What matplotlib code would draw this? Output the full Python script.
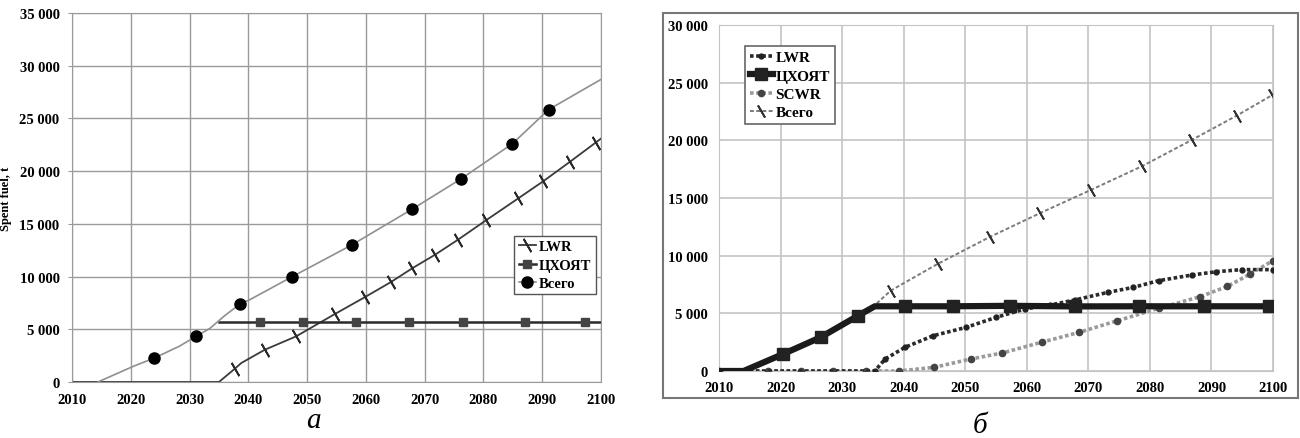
import matplotlib.pyplot as plt
from matplotlib.patches import Rectangle

plt.rcParams['font.family'] = ['Liberation Serif', 'DejaVu Serif']

# ---- panel a ----
a_lwr_years = [2010, 2035, 2037.7, 2038.8, 2042.8, 2048.1, 2054.7, 2059.8, 2064.2, 2067.9,
               2071.7, 2075.6, 2080.5, 2085.9, 2090.2, 2094.7, 2099.1, 2100]
a_lwr_vals = [0, 0, 1260, 1800, 3060, 4320, 6440, 8040, 9460, 10790,
              12050, 13470, 15360, 17410, 19050, 20880, 22710, 23090]
a_lwr_marks = [2, 4, 5, 6, 7, 8, 9, 10, 11, 12, 13, 14, 15, 16]

a_store_years = [2035, 2041.9, 2049.3, 2058.3, 2067.3, 2076.5, 2087.0, 2097.3, 2100]
a_store_vals = [5700, 5700, 5700, 5700, 5700, 5700, 5700, 5700, 5700]
a_store_marks = [1, 2, 3, 4, 5, 6, 7]

a_total_years = [2014.4, 2020.4, 2024.0, 2028.2, 2031.1, 2033.5, 2036.0, 2038.6, 2040.2, 2047.5,
                 2057.6, 2067.8, 2076.2, 2084.9, 2091.1, 2100]
a_total_vals = [0, 1480, 2270, 3375, 4320, 5100, 6300, 7410, 7790, 10000,
                13000, 16370, 19270, 22590, 25840, 28700]
a_total_marks = [2, 4, 7, 9, 10, 11, 12, 13, 14]

# ---- panel b ----
b_lwr_years = [2010, 2035.3, 2037.0, 2040.2, 2044.8, 2050.2, 2055.0, 2059.7, 2063.8, 2067.8,
               2073.2, 2077.3, 2081.4, 2086.8, 2090.8, 2094.9, 2100]
b_lwr_vals = [0, 0, 1040, 2050, 3060, 3790, 4650, 5380, 5720, 6160,
              6820, 7250, 7830, 8320, 8610, 8790, 8790]

b_store_years = [2010, 2014.0, 2020.4, 2026.5, 2032.6, 2035.3, 2040.2, 2048.0, 2057.3, 2067.8,
                 2078.3, 2088.8, 2099.3, 2100]
b_store_vals = [0, 0, 1470, 2920, 4800, 5610, 5610, 5610, 5650, 5600,
                5610, 5610, 5610, 5610]
b_store_marks = [2, 3, 4, 6, 7, 8, 9, 10, 11, 12]

b_scwr_years = [2010, 2017.9, 2023.3, 2028.5, 2033.9, 2039.2, 2045.0, 2050.9, 2056.0, 2062.4,
                2068.5, 2074.6, 2081.4, 2088.2, 2092.6, 2096.3, 2100]
b_scwr_vals = [0, 0, 0, 0, 0, 0, 320, 1040, 1560, 2490,
               3350, 4340, 5430, 6450, 7340, 8410, 9570]

b_total_years = [2010, 2014.0, 2020.4, 2026.5, 2032.6, 2035.3, 2037.9, 2045.5, 2054.1, 2062.2,
                 2070.5, 2078.7, 2086.8, 2094.1, 2099.9]
b_total_vals = [0, 0, 1470, 2920, 4800, 5700, 6970, 9280, 11650, 13700,
                15720, 17750, 20030, 22140, 23930]
b_total_marks = [6, 7, 8, 9, 10, 11, 12, 13, 14]

years_ticks = list(range(2010, 2101, 10))


def fmt(v):
    return f"{v:,}".replace(",", " ")


fig = plt.figure(figsize=(13, 4.39), dpi=100)
tick_mark = (2, 2, 30)   # short slanted stroke

# ---------- a ----------
ax = fig.add_axes([72 / 1300, 56 / 439, 529 / 1300, 369 / 439])
ax.plot(a_lwr_years, a_lwr_vals, color='#3a3a3a', lw=1.3, marker=tick_mark, ms=11, mew=1.3,
        mec='#2a2a2a', markevery=a_lwr_marks, label='LWR')
ax.plot(a_store_years, a_store_vals, color='#2a2a2a', lw=1.8, marker='s', ms=6,
        mfc='#444444', mec='#444444', markevery=a_store_marks, label='ЦХОЯТ')
ax.plot(a_total_years, a_total_vals, color='#8f8f8f', lw=1.2, marker='o', ms=8,
        mfc='black', mec='black', markevery=a_total_marks, label='Всего')
ax.set_xlim(2010, 2100)
ax.set_ylim(0, 35000)
ax.set_xticks(years_ticks)
yt = list(range(0, 35001, 5000))
ax.set_yticks(yt)
ax.set_yticklabels([fmt(v) for v in yt])
ax.grid(True, color='#9a9a9a', lw=1)
for s in ax.spines.values():
    s.set_color('#9a9a9a')
ax.tick_params(axis='y', length=3, color='#9a9a9a', pad=6, labelsize=10.5)
ax.tick_params(axis='x', length=0, pad=8, labelsize=10.5)
for t in ax.get_xticklabels() + ax.get_yticklabels():
    t.set_fontweight('bold')
ax.set_ylabel('Spent fuel, t', fontsize=9, fontweight='bold', labelpad=5)
leg = ax.legend(loc='upper left', bbox_to_anchor=(0.836, 0.396), borderaxespad=0,
                handlelength=1.2, handletextpad=0.2, labelspacing=0.35,
                fancybox=False, framealpha=1, edgecolor='#555555',
                prop={'weight': 'bold', 'size': 10.5}, borderpad=0.3)
leg.get_frame().set_linewidth(1)
fig.text(313 / 1300, 1 - 421 / 439, 'а', fontsize=21, style='italic', ha='center', va='center')

# ---------- б ----------
fig.add_artist(Rectangle((663 / 1300, 1 - 399 / 439), 635 / 1300, 385 / 439,
                         transform=fig.transFigure, fill=False, ec='#777777', lw=1.5))
bx = fig.add_axes([719 / 1300, 67 / 439, 554 / 1300, 346 / 439])
bx.plot(b_total_years, b_total_vals, color='#7a7a7a', lw=1.4, ls=(0, (2, 1.2)),
        marker=tick_mark, ms=10, mew=1.3, mec='#333333',
        markevery=b_total_marks, label='Всего', zorder=2)
bx.plot(b_scwr_years, b_scwr_vals, color='#9a9a9a', lw=2.6, ls=(0, (1, 0.7)),
        marker='o', ms=4.5, mfc='#444444', mec='#444444', label='SCWR', zorder=3)
bx.plot(b_lwr_years, b_lwr_vals, color='#2a2a2a', lw=2.6, ls=(0, (1, 0.7)),
        marker='o', ms=3.5, mfc='#222222', mec='#222222', label='LWR', zorder=4)
bx.plot(b_store_years, b_store_vals, color='#1a1a1a', lw=4.5, marker='s', ms=9,
        mfc='#222222', mec='#222222', markevery=b_store_marks, label='ЦХОЯТ', zorder=5)
bx.set_xlim(2010, 2100)
bx.set_ylim(0, 30000)
bx.set_xticks(years_ticks)
yt2 = list(range(0, 30001, 5000))
bx.set_yticks(yt2)
bx.set_yticklabels([fmt(v) for v in yt2])
bx.grid(True, color='#c4c4c4', lw=1.2)
for s in bx.spines.values():
    s.set_color('#c4c4c4')
bx.tick_params(length=0, labelsize=10.5, pad=8)
bx.tick_params(axis='x', pad=7)
for t in bx.get_xticklabels() + bx.get_yticklabels():
    t.set_fontweight('bold')
h, l = bx.get_legend_handles_labels()
order = [2, 3, 1, 0]
leg2 = bx.legend([h[i] for i in order], [l[i] for i in order], loc='upper left',
                 bbox_to_anchor=(0.047, 0.939), borderaxespad=0,
                 handlelength=1.5, handletextpad=0.2, labelspacing=0.3,
                 fancybox=False, framealpha=1, edgecolor='#666666',
                 prop={'weight': 'bold', 'size': 11}, borderpad=0.3)
leg2.get_frame().set_linewidth(1.2)
fig.text(980 / 1300, 1 - 426 / 439, 'б', fontsize=21, style='italic', ha='center', va='center')

fig.savefig('out.png', dpi=100)
plt.close(fig)
